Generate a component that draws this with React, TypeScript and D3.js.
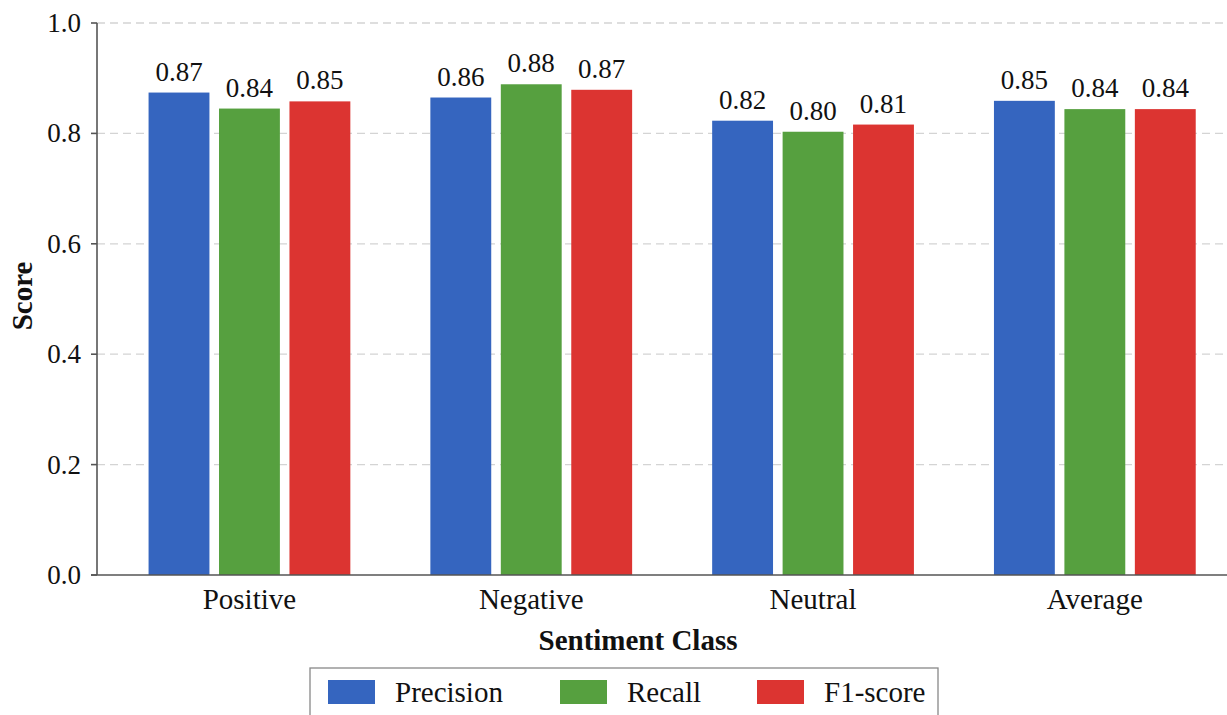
import React from "react";
import * as d3 from "d3";

const categories = ["Positive", "Negative", "Neutral", "Average"];
const seriesNames = ["Precision", "Recall", "F1-score"];
const seriesColors = ["#3565bf", "#56a03f", "#dc3431"];
const precision = [0.874, 0.865, 0.823, 0.859];
const recall = [0.845, 0.889, 0.803, 0.844];
const f1score = [0.858, 0.879, 0.816, 0.844];
const precisionLabels = ["0.87", "0.86", "0.82", "0.85"];
const recallLabels = ["0.84", "0.88", "0.80", "0.84"];
const f1Labels = ["0.85", "0.87", "0.81", "0.84"];
const yTicks = [0, 0.2, 0.4, 0.6, 0.8, 1.0];

const W = 1227;
const H = 715;
const FONT = "'Liberation Serif', 'Times New Roman', serif";

export default function App() {
  const series = [
    { name: seriesNames[0], values: precision, labels: precisionLabels, color: seriesColors[0] },
    { name: seriesNames[1], values: recall, labels: recallLabels, color: seriesColors[1] },
    { name: seriesNames[2], values: f1score, labels: f1Labels, color: seriesColors[2] },
  ];
  const left = 97;
  const y = d3.scaleLinear().domain([0, 1]).range([575, 23]);
  const x = d3.scaleLinear().domain([-0.541, 3.469]).range([left, W]);
  const offsets = [-0.25, 0, 0.25];
  const barW = 0.216;

  return (
    <svg width={W} height={H} style={{ position: "absolute", left: 0, top: 0, background: "#fff" }}>
      <rect width={W} height={H} fill="#fff" />
      {yTicks.filter((t) => t > 0).map((t) => (
        <line key={"g" + t} x1={left} x2={W} y1={y(t)} y2={y(t)} stroke="#d4d4d4" strokeWidth={1.3} strokeDasharray="8,5" />
      ))}
      {series.map((s, si) =>
        categories.map((c, ci) => {
          const cx = x(ci + offsets[si]);
          const bw = x(barW) - x(0);
          return (
            <g key={s.name + c}>
              <rect x={cx - bw / 2} y={y(s.values[ci])} width={bw} height={y(0) - y(s.values[ci])} fill={s.color} />
              <text x={cx} y={y(s.values[ci]) - 12} textAnchor="middle" fontFamily={FONT} fontSize={27} fill="#111">
                {s.labels[ci]}
              </text>
            </g>
          );
        })
      )}
      <line x1={left} x2={left} y1={y(1)} y2={y(0)} stroke="#555" strokeWidth={1.6} />
      <line x1={left - 6} x2={W} y1={y(0)} y2={y(0)} stroke="#555" strokeWidth={1.6} />
      {yTicks.map((t) => (
        <g key={"t" + t}>
          <line x1={left - 6} x2={left} y1={y(t)} y2={y(t)} stroke="#555" strokeWidth={1.6} />
          <text x={81} y={y(t) + 9} textAnchor="end" fontFamily={FONT} fontSize={27} fill="#111">
            {t.toFixed(1)}
          </text>
        </g>
      ))}
      {categories.map((c, ci) => (
        <text key={c} x={x(ci)} y={609} textAnchor="middle" fontFamily={FONT} fontSize={29} fill="#111">
          {c}
        </text>
      ))}
      <text x={638} y={650} textAnchor="middle" fontFamily={FONT} fontSize={29} fontWeight="bold" fill="#111">
        Sentiment Class
      </text>
      <text transform="translate(32,296) rotate(-90)" textAnchor="middle" fontFamily={FONT} fontSize={29} fontWeight="bold" fill="#111">
        Score
      </text>
      <rect x={310} y={668} width={628} height={60} fill="#fff" stroke="#888" strokeWidth={1.3} />
      {series.map((s, si) => {
        const lx = [328, 560, 757][si];
        return (
          <g key={"l" + s.name}>
            <rect x={lx} y={680} width={47} height={24} fill={s.color} />
            <text x={lx + 67} y={702} fontFamily={FONT} fontSize={29} fill="#111">
              {s.name}
            </text>
          </g>
        );
      })}
    </svg>
  );
}
